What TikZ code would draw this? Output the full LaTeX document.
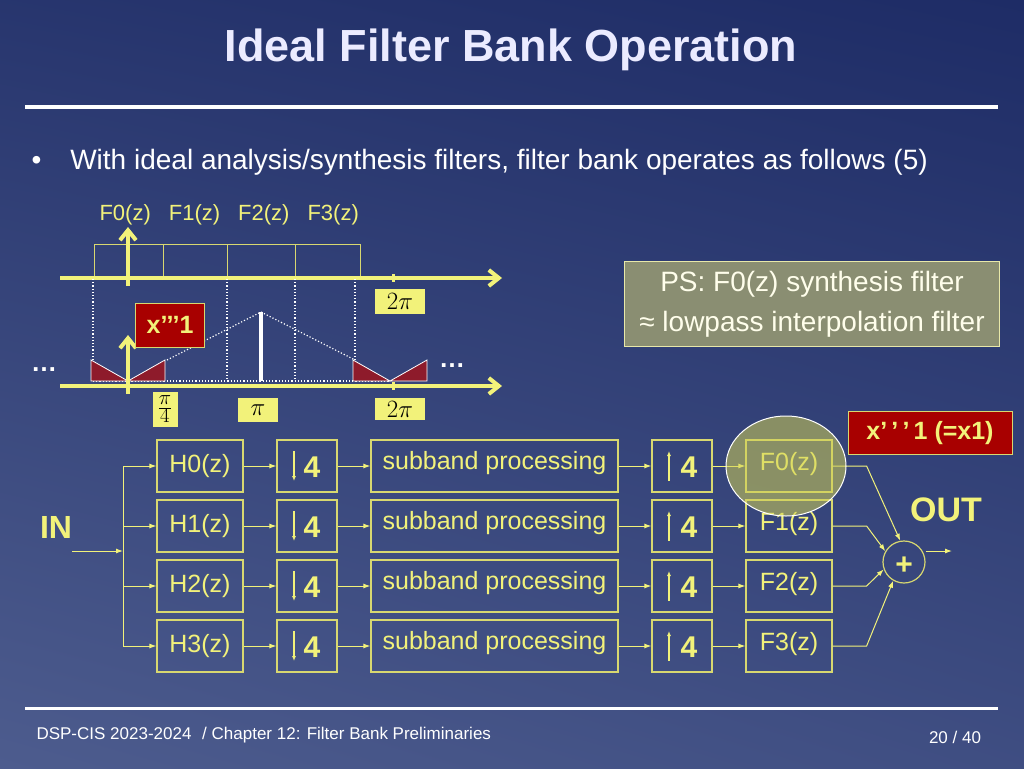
\documentclass[tikz,border=0pt]{standalone}
\usepackage{fontspec}
\setmainfont{Liberation Sans}
\usetikzlibrary{positioning, calc, arrows.meta, shadings}
\definecolor{bgtop}{HTML}{1E2C66}
\definecolor{bgbot}{HTML}{4D5C8E}
\definecolor{ylw}{HTML}{F2F27A}
\definecolor{boxline}{HTML}{D8D870}
\definecolor{darkred}{HTML}{8E1B2B}
\definecolor{redbox}{HTML}{A80000}
\definecolor{psbox}{HTML}{8A8E72}
\tikzset{
  blk/.style={draw=boxline, line width=1.2pt, minimum height=52pt, inner sep=0pt, text=ylw, font=\fontsize{25}{28}\selectfont},
  conn/.style={draw=ylw, line width=1pt, -{Latex[length=7pt,width=5pt]}},
  axis/.style={ylw, line width=4pt, -{Straight Barb[length=10pt,width=16pt]}},
  dots/.style={white, dotted, line width=1.2pt},
  pibox/.style={fill=ylw, inner sep=1pt, text=black, font=\fontsize{26}{28}\selectfont},
  redlab/.style={fill=redbox, draw=boxline, line width=1pt, text=ylw, font=\bfseries\fontsize{25}{28}\selectfont}
}
\begin{document}
\begin{tikzpicture}[x=1pt,y=-1pt]
  \useasboundingbox (0,0) rectangle (1024,768);
  \shade[upper left=bgtop!80!bgbot, upper right=bgtop, lower left=bgbot, lower right=bgbot!70!bgtop] (0,0) rectangle (1024,768);

  % title and rules
  \node[text=white!92!blue, font=\bfseries\fontsize{45}{50}\selectfont] (title) at (511,50) {Ideal Filter Bank Operation};
  \draw[white, line width=4pt] (25,107) -- (998,107);
  \node[text=white, font=\fontsize{28}{32}\selectfont, anchor=west] (bullet) at (28,162) {\textbullet\hspace{29pt}With ideal analysis/synthesis filters, filter bank operates as follows (5)};

  % top spectrum
  \node[text=ylw, font=\fontsize{22}{24}\selectfont, anchor=west] (flab) at (96,215) {F0(z)\hspace{18pt}F1(z)\hspace{18pt}F2(z)\hspace{18pt}F3(z)};
  \draw[boxline, line width=1pt] (94,278) -- (94,244) -- (360,244) -- (360,278);
  \foreach \x in {163,227,295} \draw[boxline, line width=1pt] (\x,244) -- (\x,278);
  \draw[axis] (60,278) -- (502,278);
  \draw[ylw, line width=3pt] (393,274) -- (393,282);
  \draw[axis] (128,286) -- (128,227);
  \node[pibox, minimum width=50pt, minimum height=25pt] (pitop) at (400,301) {$2\pi$};

  % dotted guides
  \foreach \x in {93,227,295,355} \draw[dots] (\x,279) -- (\x,381);
  \draw[dots] (93,381) -- (390,381);
  \draw[dots] (167,360) -- (261,312) -- (355,360);

  % aliased images
  \foreach \c in {128,390} {
    \draw[white, fill=darkred, line width=0.8pt] (\c-37,360) -- (\c,381) -- (\c-37,381) -- cycle;
    \draw[white, fill=darkred, line width=0.8pt] (\c,381) -- (\c+37,360) -- (\c+37,381) -- cycle;
  }
  \draw[white, line width=4pt] (261,312) -- (261,381);
  \draw[axis] (60,386) -- (502,386);
  \draw[ylw, line width=3pt] (393,382) -- (393,390);
  \draw[axis] (128,394) -- (128,335);
  \node[redlab, minimum width=69pt, minimum height=44pt] (xlab) at (170,325) {x’’’1};
  \node[text=white, font=\bfseries\fontsize{26}{28}\selectfont] (dotsl) at (44,370) {\ldots};
  \node[text=white, font=\bfseries\fontsize{26}{28}\selectfont] (dotsr) at (452,366) {\ldots};
  \node[pibox, minimum width=25pt, minimum height=35pt, inner sep=0pt, font=\fontsize{30}{32}\selectfont] (pifour) at (165,409) {$\frac{\pi}{4}$};
  \node[pibox, minimum width=40pt, minimum height=24pt, font=\fontsize{36}{36}\selectfont] (pimid) at (258,410) {$\pi$};
  \node[pibox, minimum width=50pt, minimum height=22pt] (pibot) at (400,409) {$2\pi$};

  % notes
  \node[fill=psbox, draw=boxline!60, minimum width=375pt, minimum height=85pt, text=white!92!yellow, font=\fontsize{28}{40}\selectfont, align=center] (ps) at (812,304) {PS: F0(z) synthesis filter\\ ≈ lowpass interpolation filter};
  \node[redlab, minimum width=164pt, minimum height=43pt, inner sep=0pt] (xone) at (930,433) {x’\,’\,’\,1 (=x1)};

  % filter bank
  \foreach \i/\y in {0/466,1/526,2/586,3/646} {
    \node[blk, minimum width=86pt] (h\i) at (200,\y) {H\i(z)};
    \node[blk, minimum width=60pt] (d\i) at (307,\y) {};
    \draw[ylw, line width=1.2pt, -{Latex[length=5pt,width=4pt]}] ($(d\i.center)+(-13,-15)$) -- ++(0,30);
    \node[text=ylw, font=\bfseries\fontsize{30}{30}\selectfont] (dn\i) at ($(d\i.center)+(5,1)$) {4};
    \node[blk, minimum width=247pt, text depth=12pt] (s\i) at (494.5,\y) {subband processing};
    \node[blk, minimum width=60pt] (u\i) at (682,\y) {};
    \draw[ylw, line width=1.2pt, -{Latex[length=5pt,width=4pt]}] ($(u\i.center)+(-13,15)$) -- ++(0,-30);
    \node[text=ylw, font=\bfseries\fontsize{30}{30}\selectfont] (up\i) at ($(u\i.center)+(7,1)$) {4};
    \node[blk, minimum width=86pt, text depth=10pt] (f\i) at (789,\y) {F\i(z)};
    \draw[conn] (h\i) -- (d\i);
    \draw[conn] (d\i) -- (s\i);
    \draw[conn] (s\i) -- (u\i);
    \draw[conn] (u\i) -- (f\i);
    \coordinate (b\i) at (123,\y);
    \draw[conn] (b\i) -- (h\i);
  }
  \node[text=ylw, font=\bfseries\fontsize{32}{34}\selectfont] (in) at (56,527) {IN};
  \coordinate (inst) at (72,551);
  \coordinate (inj) at (123,551);
  \draw[conn] (inst) -- (inj);
  \draw[ylw, line width=1pt] (b0) -- (b3);

  \node[circle, draw=boxline, line width=1.2pt, minimum size=42pt, inner sep=0pt] (sum) at (904,562) {};
  \node[text=ylw, font=\bfseries\fontsize{30}{30}\selectfont] (plus) at (904,566) {+};
  \node[text=ylw, font=\bfseries\fontsize{34}{36}\selectfont] (out) at (946,510) {OUT};
  \coordinate (outend) at (952,551);
  \draw[conn] (sum.east |- outend) -- (outend);
  \foreach \i/\a in {0/100,1/150,2/200,3/240} {
    \coordinate (k\i) at ($(f\i.east)+(34,0)$);
    \draw[conn] (f\i.east) -- (k\i) -- (sum.\a);
  }

  % highlight
  \draw[white, line width=1pt, fill=ylw!70!olive, fill opacity=0.55] (786,466) ellipse (60pt and 50pt);

  % footer
  \draw[white, line width=3pt] (25,708) -- (998,708);
  \node[text=white, font=\fontsize{17}{20}\selectfont, anchor=west] (foot) at (33,735) {DSP-CIS 2023-2024\hspace{6pt} / Chapter 12: Filter Bank Preliminaries};
  \node[text=white, font=\fontsize{17}{20}\selectfont] (page) at (955,737) {20 / 40};
\end{tikzpicture}
\end{document}
